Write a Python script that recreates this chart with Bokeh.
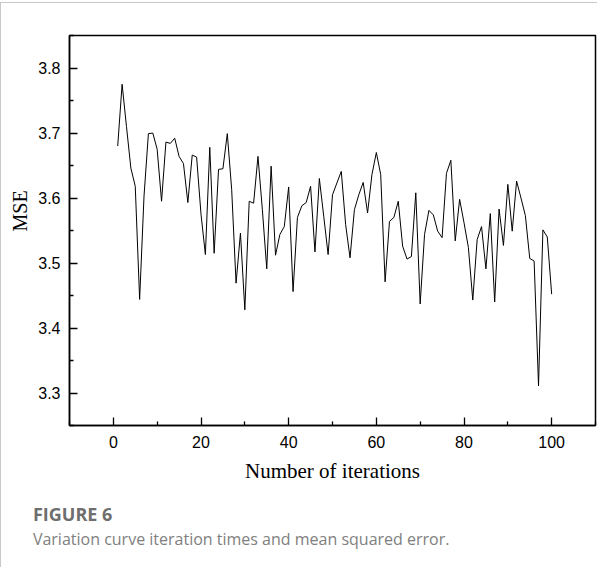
from bokeh.plotting import figure
from bokeh.models import FixedTicker, Title
from bokeh.embed import file_html
from bokeh.resources import INLINE

# ---- data ----
iterations = list(range(1, 101))
mse = [
    3.680, 3.775, 3.710, 3.646, 3.618, 3.444, 3.603, 3.699, 3.700, 3.675,
    3.595, 3.686, 3.684, 3.692, 3.664, 3.653, 3.593, 3.666, 3.663, 3.575,
    3.513, 3.678, 3.515, 3.644, 3.645, 3.699, 3.613, 3.469, 3.546, 3.428,
    3.595, 3.592, 3.664, 3.582, 3.491, 3.649, 3.512, 3.544, 3.556, 3.617,
    3.456, 3.570, 3.588, 3.593, 3.618, 3.517, 3.630, 3.572, 3.513, 3.605,
    3.623, 3.641, 3.559, 3.508, 3.582, 3.605, 3.624, 3.577, 3.636, 3.670,
    3.636, 3.471, 3.564, 3.570, 3.595, 3.526, 3.506, 3.510, 3.608, 3.437,
    3.544, 3.581, 3.574, 3.549, 3.539, 3.638, 3.658, 3.534, 3.598, 3.562,
    3.524, 3.443, 3.536, 3.556, 3.491, 3.576, 3.440, 3.583, 3.527, 3.621,
    3.549, 3.626, 3.600, 3.573, 3.507, 3.503, 3.311, 3.551, 3.540, 3.452,
]
x_ticks = [0, 20, 40, 60, 80, 100]
x_minor = [-10, 10, 30, 50, 70, 90, 110]
y_ticks = [3.3, 3.4, 3.5, 3.6, 3.7, 3.8]
y_tick_labels = ["3.3", "3.4", "3.5", "3.6", "3.7", "3.8"]
y_minor = [3.25, 3.35, 3.45, 3.55, 3.65, 3.75, 3.85]
x_title = "Number of iterations"
y_title = "MSE"
fig_label = "FIGURE 6"
caption = "Variation curve iteration times and mean squared error."

p = figure(width=597, height=567, x_range=(-10, 110), y_range=(3.25, 3.85),
           output_backend="svg", toolbar_location=None,
           min_border_left=69, min_border_right=2, min_border_top=35, min_border_bottom=142)
p.border_fill_color = None
p.background_fill_color = "white"
p.styles = {"box-shadow": "inset 0 2px 0 0 #ffffff, inset 1px 3px 0 0 #c8c8c8"}
p.outline_line_color = "black"
p.outline_line_width = 1.5
p.xgrid.visible = False
p.ygrid.visible = False

p.line(iterations, mse, line_color="black", line_width=1)

for ax in (p.xaxis[0], p.yaxis[0]):
    ax.axis_line_width = 1.5
    ax.axis_line_color = "black"
    ax.major_tick_line_color = "black"
    ax.minor_tick_line_color = "black"
    ax.major_tick_line_width = 1.3
    ax.minor_tick_line_width = 1.3
    ax.major_tick_in = 8
    ax.major_tick_out = 0
    ax.minor_tick_in = 4
    ax.minor_tick_out = 0
    ax.major_label_text_font = "Liberation Sans"
    ax.major_label_text_font_size = "16px"
    ax.major_label_text_color = "black"

p.xaxis[0].ticker = FixedTicker(ticks=x_ticks, minor_ticks=x_minor)
p.yaxis[0].ticker = FixedTicker(ticks=y_ticks, minor_ticks=y_minor)
p.yaxis[0].major_label_overrides = dict(zip(y_ticks, y_tick_labels))
p.xaxis[0].major_label_standoff = 10
p.yaxis[0].major_label_standoff = 9

p.xaxis[0].axis_label = x_title
p.xaxis[0].axis_label_text_font = "Liberation Serif"
p.xaxis[0].axis_label_text_font_size = "21px"
p.xaxis[0].axis_label_text_font_style = "normal"
p.xaxis[0].axis_label_text_color = "black"
p.xaxis[0].axis_label_standoff = 8

# y-axis title, slightly above the frame centre as in the reference
p.add_layout(Title(text=y_title, align="left", offset=194, standoff=10,
                   text_font="Liberation Serif", text_font_size="20px",
                   text_font_style="normal", text_color="black"), "left")
# small spacer between the x-axis title and the caption block
p.add_layout(Title(text=" ", align="left", standoff=11,
                   text_font="Open Sans", text_font_size="1px",
                   text_color="white"), "below")
p.add_layout(Title(text=fig_label, align="left", offset=-36.6, standoff=0,
                   text_font="Open Sans", text_font_size="18px",
                   text_font_style="bold", text_color="#6e6e6e"), "below")
p.add_layout(Title(text=caption, align="left", offset=-36.6, standoff=0,
                   text_font="Open Sans", text_font_size="16px",
                   text_font_style="normal", text_color="#808080"), "below")

open("out.html", "w").write(file_html(p, INLINE))
